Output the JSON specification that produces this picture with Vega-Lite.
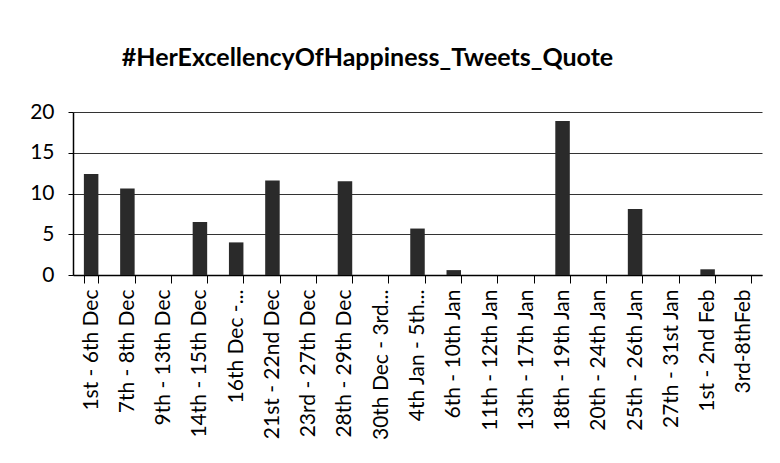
{
  "$schema": "https://vega.github.io/schema/vega-lite/v6.json",
  "autosize": {"type": "none"},
  "width": 689,
  "height": 163,
  "padding": {"left": 73, "top": 112, "right": 18, "bottom": 188},
  "background": "white",
  "title": {
    "text": "#HerExcellencyOfHappiness_Tweets_Quote",
    "font": "Lato",
    "fontSize": 25,
    "fontWeight": "bold",
    "color": "#000",
    "anchor": "middle",
    "dx": -50,
    "offset": 30
  },
  "data": {
    "values": [
      {"period": "1st - 6th Dec", "tweets": 12.4},
      {"period": "7th - 8th Dec", "tweets": 10.6},
      {"period": "9th - 13th Dec", "tweets": 0},
      {"period": "14th - 15th Dec", "tweets": 6.5},
      {"period": "16th Dec -...", "tweets": 4.0},
      {"period": "21st - 22nd Dec", "tweets": 11.6},
      {"period": "23rd - 27th Dec", "tweets": 0},
      {"period": "28th - 29th Dec", "tweets": 11.5},
      {"period": "30th Dec - 3rd...", "tweets": 0},
      {"period": "4th Jan - 5th...", "tweets": 5.7},
      {"period": "6th - 10th Jan", "tweets": 0.6},
      {"period": "11th - 12th Jan", "tweets": 0},
      {"period": "13th - 17th Jan", "tweets": 0},
      {"period": "18th - 19th Jan", "tweets": 18.9},
      {"period": "20th - 24th Jan", "tweets": 0},
      {"period": "25th - 26th Jan", "tweets": 8.1},
      {"period": "27th - 31st Jan", "tweets": 0},
      {"period": "1st - 2nd Feb", "tweets": 0.7},
      {"period": "3rd-8thFeb", "tweets": 0}
    ]
  },
  "mark": {"type": "bar", "color": "#2a2a2a"},
  "encoding": {
    "x": {
      "field": "period",
      "type": "nominal",
      "sort": null,
      "scale": {"paddingInner": 0.6, "paddingOuter": 0.3},
      "axis": {
        "title": null,
        "labelAngle": -90,
        "labelFont": "Lato",
        "labelFontSize": 21,
        "labelColor": "#000",
        "labelPadding": 6,
        "labelLimit": 200,
        "tickBand": "extent",
        "tickSize": 8,
        "tickColor": "#000",
        "domainColor": "#000",
        "domainWidth": 1.5
      }
    },
    "y": {
      "field": "tweets",
      "type": "quantitative",
      "scale": {"domain": [0, 20], "nice": false},
      "axis": {
        "title": null,
        "values": [0, 5, 10, 15, 20],
        "labelFont": "Lato",
        "labelFontSize": 21,
        "labelColor": "#000",
        "labelPadding": 14,
        "tickSize": 5,
        "tickColor": "#000",
        "domainColor": "#000",
        "domainWidth": 1.5,
        "gridColor": "#333",
        "gridWidth": 1
      }
    }
  },
  "config": {"view": {"stroke": null}}
}
